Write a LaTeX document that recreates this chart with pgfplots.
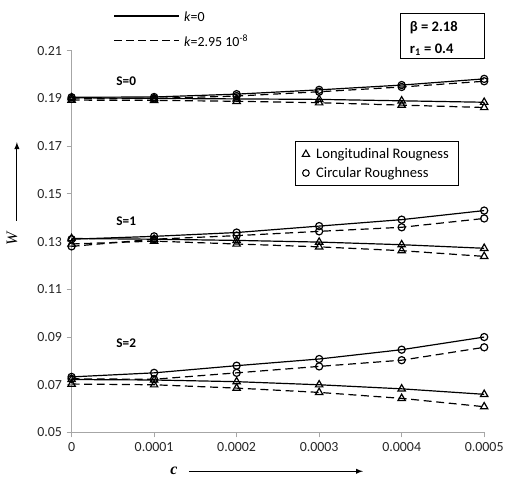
\documentclass[border=0pt]{standalone}
\usepackage{fontspec}
\setmainfont{Carlito}
\newfontfamily\serif{Liberation Serif}
\usepackage{pgfplots}
\usepackage{pgfplotstable}
\pgfplotsset{compat=1.18}

% S=0
\pgfplotstableread{
c       LS     LD     CS     CD
0       0.1903 0.1893 0.1905 0.1898
0.0001  0.1900 0.1892 0.1906 0.1900
0.0002  0.1898 0.1888 0.1918 0.1910
0.0003  0.1896 0.1882 0.1936 0.1928
0.0004  0.1890 0.1872 0.1956 0.1948
0.0005  0.1884 0.1862 0.1982 0.1972
}\sZero
% S=1
\pgfplotstableread{
c       LS     LD     CS     CD
0       0.1313 0.1290 0.1310 0.1280
0.0001  0.1310 0.1302 0.1322 0.1310
0.0002  0.1305 0.1290 0.1338 0.1325
0.0003  0.1298 0.1278 0.1365 0.1343
0.0004  0.1287 0.1262 0.1392 0.1360
0.0005  0.1272 0.1238 0.1430 0.1397
}\sOne
% S=2
\pgfplotstableread{
c       LS     LD     CS     CD
0       0.0722 0.0703 0.0733 0.0725
0.0001  0.0720 0.0700 0.0750 0.0723
0.0002  0.0713 0.0686 0.0780 0.0750
0.0003  0.0700 0.0668 0.0808 0.0777
0.0004  0.0683 0.0643 0.0847 0.0803
0.0005  0.0660 0.0608 0.0900 0.0857
}\sTwo

\begin{document}
\begin{tikzpicture}[font=\fontsize{10.5}{12}\selectfont]
\begin{axis}[
    at={(0,0)}, anchor=south west,
    scale only axis, width=311.25pt, height=288pt,
    xmin=0, xmax=0.0005, ymin=0.05, ymax=0.21,
    scaled x ticks=false, scaled y ticks=false,
    axis x line*=bottom, axis y line*=left,
    axis line style={gray!70, line width=0.8pt},
    tick style={gray!70, line width=0.8pt},
    tick align=outside, major tick length=3.75pt,
    xtick={0,0.0001,0.0002,0.0003,0.0004,0.0005},
    xticklabels={0,0.0001,0.0002,0.0003,0.0004,0.0005},
    ytick={0.05,0.07,0.09,0.11,0.13,0.15,0.17,0.19,0.21},
    yticklabels={0.05,0.07,0.09,0.11,0.13,0.15,0.17,0.19,0.21},
    ticklabel style={text=black!85},
    every axis plot/.append style={black, line width=0.9pt},
    sol/.style={solid},
    das/.style={dash pattern=on 6pt off 3.5pt, mark options={solid}},
    tri/.style={mark=triangle, mark size=3.2pt},
    cir/.style={mark=o, mark size=2.7pt},
    legend style={at={(0.542,0.763)}, anchor=north west, draw=black,
        line width=0.6pt, row sep=1pt, inner xsep=5pt, inner ysep=3pt,
        font=\fontsize{11}{13}\selectfont},
    legend cell align=left,
]
\addlegendimage{only marks, black, mark=triangle, mark size=3.2pt, line width=0.8pt}
\addlegendentry{\hspace{3pt}Longitudinal Rougness}
\addlegendimage{only marks, black, mark=o, mark size=2.5pt, line width=0.8pt}
\addlegendentry{\hspace{3pt}Circular Roughness}

\addplot[sol,tri] table[x=c,y=LS]{\sZero};
\addplot[das,tri] table[x=c,y=LD]{\sZero};
\addplot[sol,cir] table[x=c,y=CS]{\sZero};
\addplot[das,cir] table[x=c,y=CD]{\sZero};

\addplot[sol,tri] table[x=c,y=LS]{\sOne};
\addplot[das,tri] table[x=c,y=LD]{\sOne};
\addplot[sol,cir] table[x=c,y=CS]{\sOne};
\addplot[das,cir] table[x=c,y=CD]{\sOne};

\addplot[sol,tri] table[x=c,y=LS]{\sTwo};
\addplot[das,tri] table[x=c,y=LD]{\sTwo};
\addplot[sol,cir] table[x=c,y=CS]{\sTwo};
\addplot[das,cir] table[x=c,y=CD]{\sTwo};
\end{axis}

% annotations in reference pixel coordinates
\begin{scope}[shift={(-54pt,326.25pt)}, x=0.75pt, y=-0.75pt]
  \path[use as bounding box] (0,0) rectangle (508,480);
  % line style key
  \draw[line width=1.2pt] (115,16) -- (180,16);
  \node[anchor=west, inner sep=0] at (185,17) {\textit{k}=0};
  \draw[line width=0.6pt, dash pattern=on 6pt off 3pt] (115,41) -- (180,41);
  \node[anchor=west, inner sep=0] at (185,41) {\textit{k}=2.95 10\textsuperscript{-8}};
  % parameter box
  \draw[line width=0.6pt] (403,13) rectangle (487,59);
  \node[anchor=west, inner sep=0, font=\fontsize{11}{13}\bfseries\selectfont] at (412,28) {β = 2.18};
  \node[anchor=west, inner sep=0, font=\fontsize{11}{13}\bfseries\selectfont] at (412,50) {r\textsubscript{1} = 0.4};
  % group labels
  \node[font=\bfseries] at (127,82) {S=0};
  \node[font=\bfseries] at (127,222) {S=1};
  \node[font=\bfseries] at (127,345) {S=2};
  % axis titles
  \draw[-latex, line width=0.8pt] (17,222) -- (17,143);
  \node[rotate=90, font=\serif\itshape\fontsize{12}{14}\selectfont] at (12,240) {W};
  \node[font=\serif\itshape\bfseries\fontsize{12}{14}\selectfont] at (175,474) {c};
  \draw[-latex, line width=0.8pt] (190,474) -- (365,474);
\end{scope}
\end{tikzpicture}
\end{document}
